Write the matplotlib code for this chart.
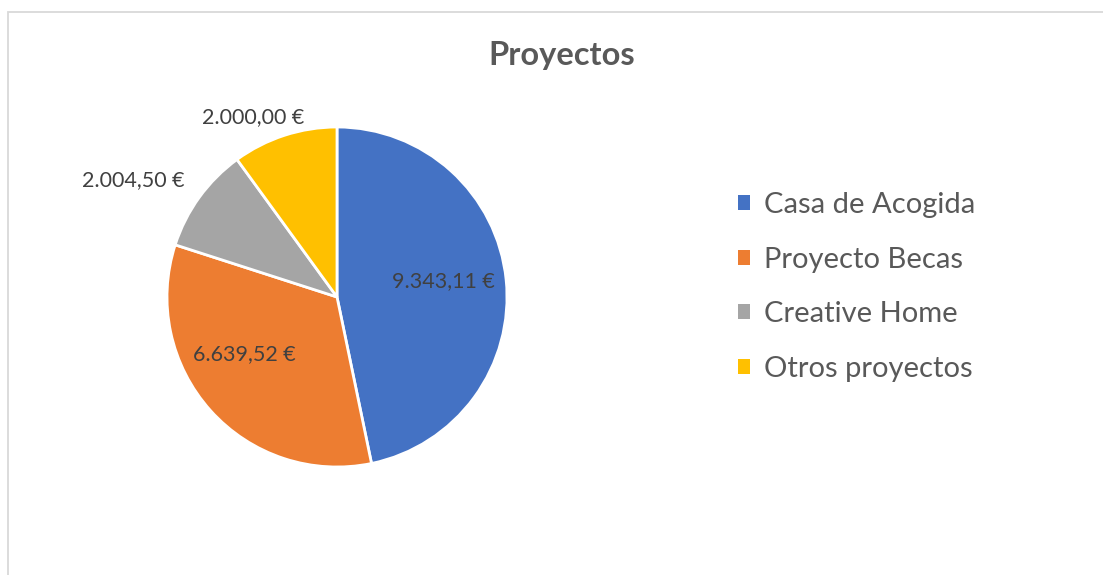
import numpy as np
import matplotlib.pyplot as plt
from matplotlib.patches import Rectangle

plt.rcParams['font.family'] = ['Lato', 'DejaVu Sans']

categories = ['Casa de Acogida', 'Proyecto Becas', 'Creative Home', 'Otros proyectos']
values = [9343.11, 6639.52, 2004.50, 2000.00]
value_labels = ['9.343,11 €', '6.639,52 €', '2.004,50 €', '2.000,00 €']
colors = ['#4472C4', '#ED7D31', '#A5A5A5', '#FFC000']

W, H = 1103, 575
fig = plt.figure(figsize=(W / 100, H / 100), dpi=100)

# chart border (light gray, cut off at right and bottom)
fig.patches.append(Rectangle((8 / W, -0.1), 1.2, 1 - 12 / H + 0.1, transform=fig.transFigure,
                             fill=False, edgecolor='#D9D9D9', linewidth=1.3))

fig.text(562 / W, 1 - 56 / H, 'Proyectos', ha='center', va='center',
         fontsize=23.5, fontweight='bold', color='#595959')

ax = fig.add_axes([167 / W, 108 / H, 340 / W, 340 / H])
wedges, _ = ax.pie(values, colors=colors, startangle=90, counterclock=False, radius=1,
                   wedgeprops=dict(edgecolor='white', linewidth=2))
ax.set_xlim(-1, 1)
ax.set_ylim(-1, 1)
ax.set_aspect('equal')
ax.axis('off')

# label placement: (radial distance, angle shift in degrees)
label_pos = [(0.63, 2.5), (0.64, -10), (1.38, 6), (1.17, 7)]
for w, txt, (r, dth) in zip(wedges, value_labels, label_pos):
    th = np.deg2rad((w.theta1 + w.theta2) / 2 + dth)
    ax.text(r * np.cos(th), r * np.sin(th), txt, ha='center', va='center',
            fontsize=15.5, color='#404040', clip_on=False)

leg = fig.legend(wedges, categories, loc='center left', bbox_to_anchor=(738 / W, 1 - 287 / H),
                 frameon=False, fontsize=21, handlelength=0.4, handleheight=0.4,
                 handletextpad=0.5, labelspacing=0.98, borderpad=0, borderaxespad=0,
                 labelcolor='#595959')
for h in leg.legend_handles:
    h.set_edgecolor('none')

fig.savefig('out.png', dpi=100)
